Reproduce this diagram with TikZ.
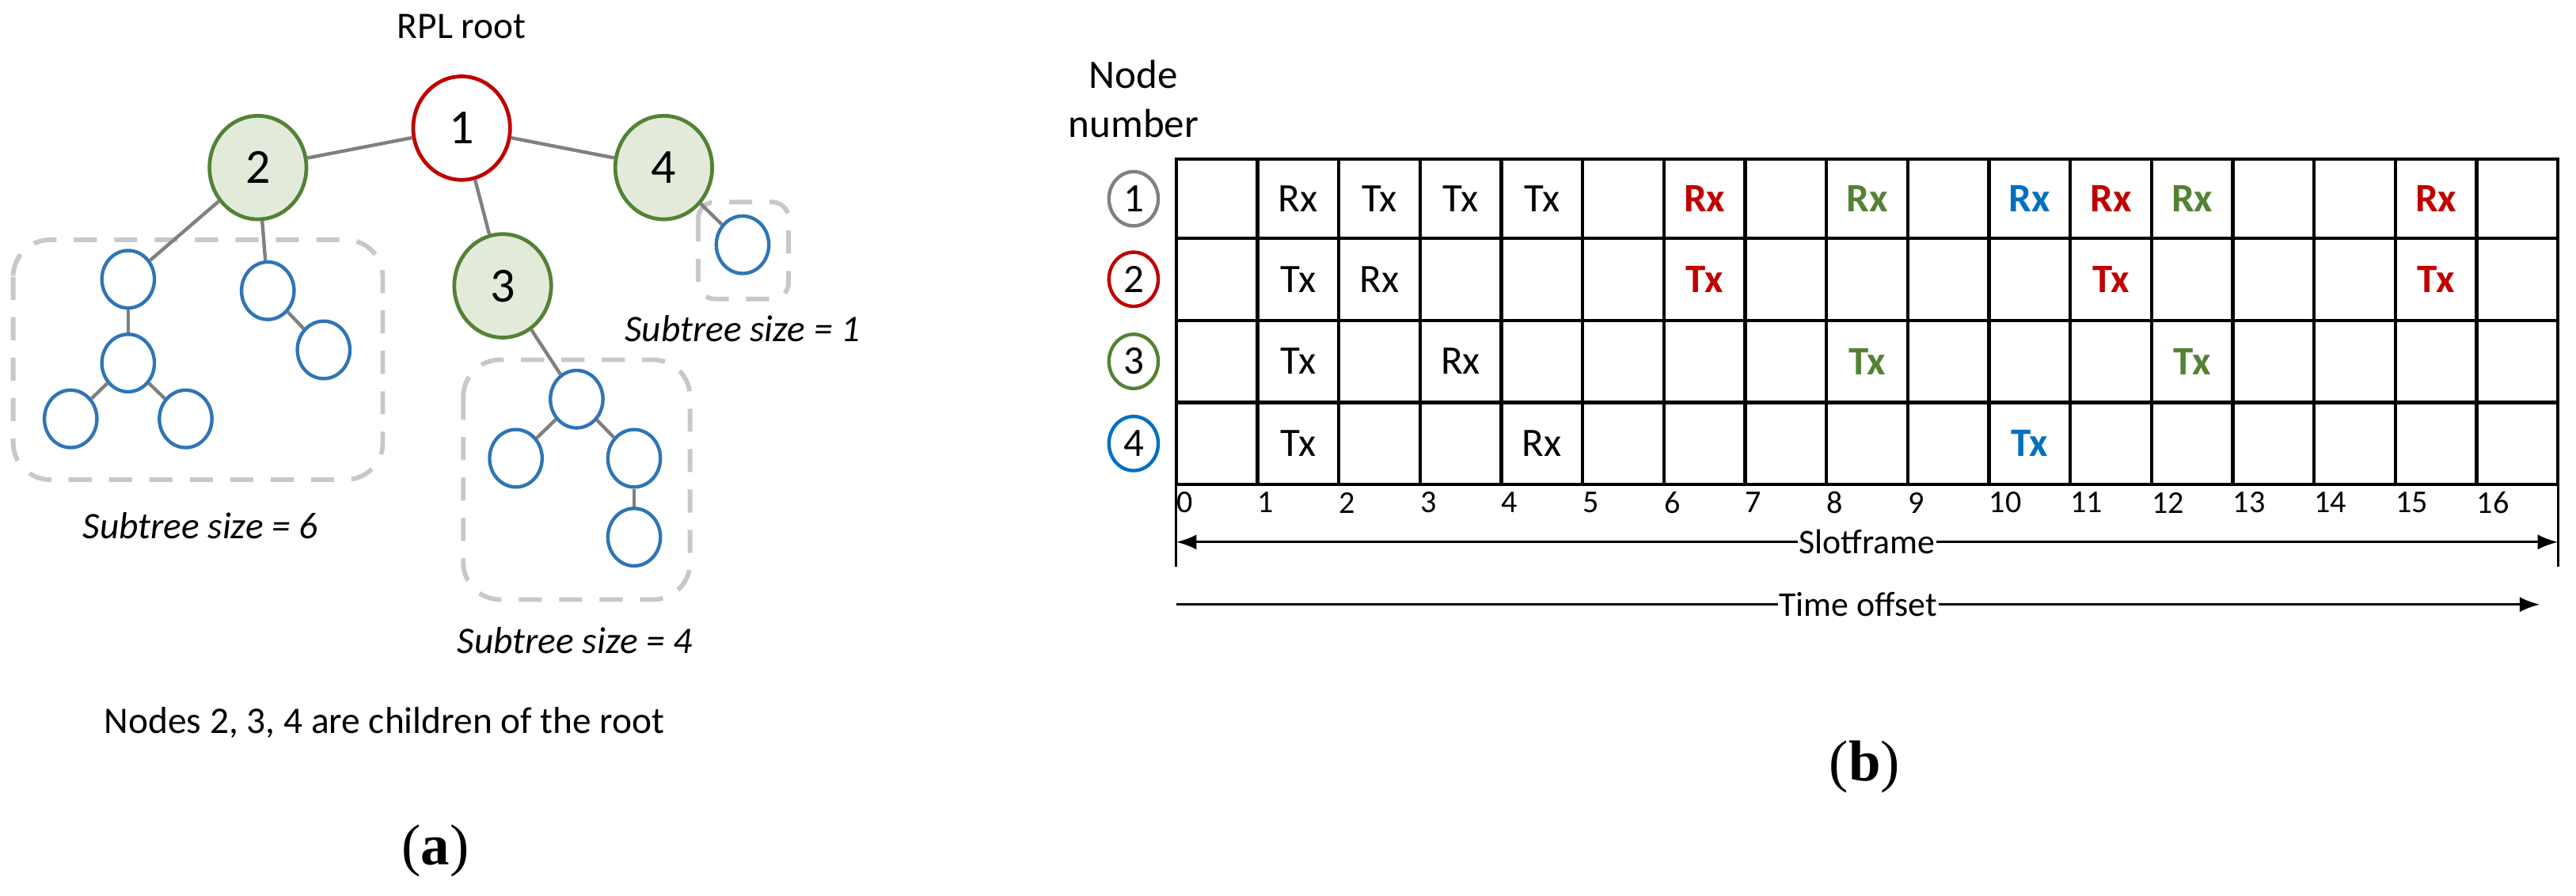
\documentclass[tikz,border=0pt]{standalone}
\usepackage{fontspec}
\setmainfont{Carlito}
\newfontfamily\capfont{Liberation Serif}
\usetikzlibrary{arrows.meta, positioning, shapes.geometric}
\definecolor{rplred}{HTML}{C00000}
\definecolor{rplgreen}{HTML}{548235}
\definecolor{rplfill}{HTML}{E2EBDA}
\definecolor{rplblue}{HTML}{2E75B6}
\definecolor{rowblue}{HTML}{0070C0}
\definecolor{linkgray}{HTML}{808080}
\definecolor{boxgray}{HTML}{C8C8C8}

\tikzset{
  root/.style = {ellipse, draw=rplred, line width=1.3pt, fill=white, minimum width=1.18cm, minimum height=1.26cm, inner sep=0pt, font=\fontsize{17}{20}\selectfont},
  child/.style = {ellipse, draw=rplgreen, line width=1.3pt, fill=rplfill, minimum width=1.18cm, minimum height=1.26cm, inner sep=0pt, font=\fontsize{17}{20}\selectfont},
  leaf/.style = {ellipse, draw=rplblue, line width=1.2pt, fill=white, minimum width=0.64cm, minimum height=0.7cm, inner sep=0pt},
  link/.style = {linkgray, line width=1.2pt},
  subtree/.style = {boxgray, line width=1.6pt, dash pattern=on 8pt off 6pt, rounded corners=0.45cm},
  sizelabel/.style = {font=\fontsize{13}{15}\selectfont\itshape},
  rowid/.style = {ellipse, draw=#1, line width=1.2pt, minimum width=0.6cm, minimum height=0.66cm, inner sep=0pt, font=\fontsize{14}{16}\selectfont},
  cell/.style = {font=\fontsize{14}{16}\selectfont},
  hot/.style = {font=\fontsize{14}{16}\selectfont\bfseries, #1},
  tick/.style = {font=\fontsize{11}{13}\selectfont, anchor=west, inner sep=1pt},
  caption/.style = {font=\capfont\fontsize{20}{22}\selectfont}
}

\begin{document}
\begin{tikzpicture}[x=0.02cm, y=-0.02cm]
		\useasboundingbox (0,0) rectangle (1568,545);
		
		%------------------------------------------------------------ tree (a)
		\node(rootlabel) [font=\fontsize{13}{15}\selectfont] at (281,16) {RPL root};
		
		\draw [subtree] (8,146) rectangle (233,292);
		\draw [subtree] (282,219) rectangle (420,365);
		\draw [subtree, rounded corners=0.2cm] (425,123) rectangle (480,182);
		
		\node(n1) [root] at (281,78) {1};
		\node(n2) [child] at (157,102) {2};
		\node(n4) [child] at (404,102) {4};
		\node(n3) [child] at (306,174) {3};
		
		\node(a) [leaf] at (78,170) {};
		\node(b) [leaf] at (78,221) {};
		\node(c) [leaf] at (43,255) {};
		\node(d) [leaf] at (113,255) {};
		\node(e) [leaf] at (163,177) {};
		\node(f) [leaf] at (197,213) {};
		\node(g) [leaf] at (351,243) {};
		\node(h) [leaf] at (314,279) {};
		\node(i) [leaf] at (386,279) {};
		\node(j) [leaf] at (386,327) {};
		\node(k) [leaf] at (452,149) {};
		
		\draw [link] (n1) -- (n2);
		\draw [link] (n1) -- (n4);
		\draw [link] (n1) -- (n3);
		\draw [link] (n2) -- (a);
		\draw [link] (n2) -- (e);
		\draw [link] (a) -- (b);
		\draw [link] (b) -- (c);
		\draw [link] (b) -- (d);
		\draw [link] (e) -- (f);
		\draw [link] (n3) -- (g);
		\draw [link] (g) -- (h);
		\draw [link] (g) -- (i);
		\draw [link] (i) -- (j);
		\draw [link] (n4) -- (k);
		
		\node(size1) [sizelabel] at (452,200) {Subtree size = 1};
		\node(size6) [sizelabel] at (122,320) {Subtree size = 6};
		\node(size4) [sizelabel] at (350,390) {Subtree size = 4};
		\node(note) [font=\fontsize{13}{15}\selectfont] at (234,440) {Nodes 2, 3, 4 are children of the root};
		\node(capa) [caption] at (265,518) {(\textbf{a})};
		
		%------------------------------------------------------------ schedule (b)
		\node(nodenum) [font=\fontsize{14}{17}\selectfont, align=center] at (690,60) {Node\\number};
		
		\draw [line width=1.2pt] (716,97) rectangle (1557,295);
		\foreach \r in {145,195,245} \draw [line width=1.2pt] (716,\r) -- (1557,\r);
		\foreach \c in {1,...,16} \draw [line width=1.2pt] (716+\c*49.47,97) -- (716+\c*49.47,295);
		\draw [line width=0.8pt] (716,295) -- (716,345);
		\draw [line width=0.8pt] (1557,295) -- (1557,345);
		\foreach \c in {0,...,16} \node [tick] at (714+\c*49.47,306) {\c};
		
		\node(r1) [rowid=linkgray] at (690,121) {1};
		\node(r2) [rowid=rplred] at (690,170) {2};
		\node(r3) [rowid=rplgreen] at (690,220) {3};
		\node(r4) [rowid=rowblue] at (690,270) {4};
		
		% row 1
		\foreach \c/\t in {1/Rx,2/Tx,3/Tx,4/Tx} \node [cell] at (716+\c*49.47+24.7,121) {\t};
		\foreach \c/\col in {6/rplred,8/rplgreen,10/rowblue,11/rplred,12/rplgreen,15/rplred} \node [hot=\col] at (716+\c*49.47+24.7,121) {Rx};
		% row 2
		\foreach \c/\t in {1/Tx,2/Rx} \node [cell] at (716+\c*49.47+24.7,170) {\t};
		\foreach \c in {6,11,15} \node [hot=rplred] at (716+\c*49.47+24.7,170) {Tx};
		% row 3
		\foreach \c/\t in {1/Tx,3/Rx} \node [cell] at (716+\c*49.47+24.7,220) {\t};
		\foreach \c in {8,12} \node [hot=rplgreen] at (716+\c*49.47+24.7,220) {Tx};
		% row 4
		\foreach \c/\t in {1/Tx,4/Rx} \node [cell] at (716+\c*49.47+24.7,270) {\t};
		\node [hot=rowblue] at (716+10*49.47+24.7,270) {Tx};
		
		\coordinate(sfl) at (716,330);
		\coordinate(sfr) at (1557,330);
		\coordinate(tol) at (716,368);
		\coordinate(tor) at (1546,368);
		\draw [{Latex[length=7pt]}-{Latex[length=7pt]}, line width=0.8pt] (sfl) -- (sfr) node(slot) [midway, fill=white, inner sep=0.5pt, font=\fontsize{12}{14}\selectfont] {Slotframe};
		\draw [-{Latex[length=7pt]}, line width=0.8pt] (tol) -- (tor) node(toff) [midway, fill=white, inner sep=0.5pt, font=\fontsize{12}{14}\selectfont] {Time offset};
		
		\node(capb) [caption] at (1135,467) {(\textbf{b})};
	\end{tikzpicture}
\end{document}
